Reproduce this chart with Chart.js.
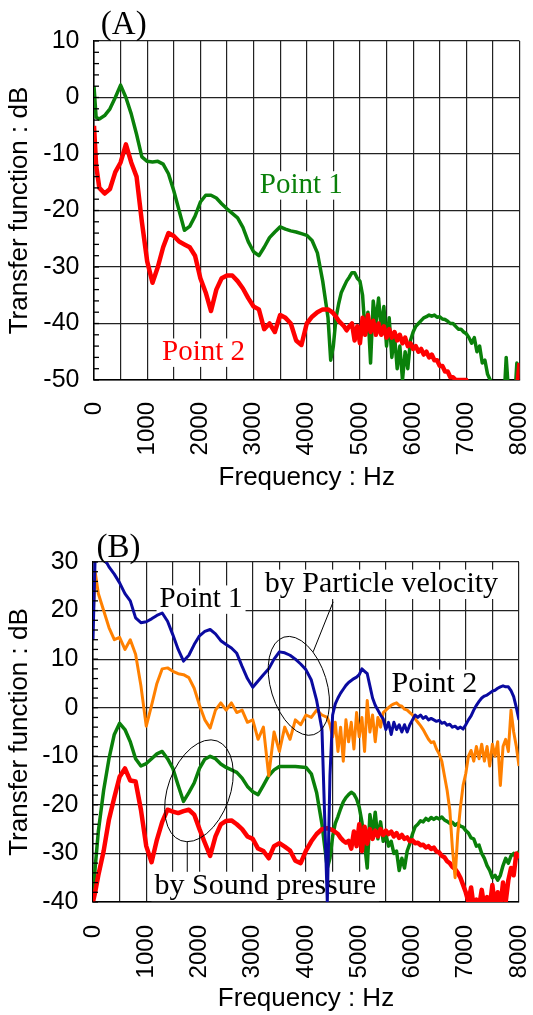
<!DOCTYPE html>
<html>
<head>
<meta charset="utf-8">
<script src="https://cdn.jsdelivr.net/npm/chart.js@4.4.0/dist/chart.umd.min.js"></script>
<style>
  body { margin: 0; background: #fff; }
  canvas { position: absolute; left: 0; }
  #graficoA { top: 0; }
  #graficoB { top: 505px; }
</style>
</head>
<body>
<canvas id="graficoA" width="533" height="505"></canvas>
<canvas id="graficoB" width="533" height="510"></canvas>
<script>
// eixo de frequencia (Hz): 100 Hz ate 4300, depois 50 Hz (parte ruidosa)
const freqHz = [0, 40, 100, 200, 300, 400, 500, 600, 700, 800,
  900, 1000, 1100, 1200, 1300, 1400, 1500, 1600, 1700, 1800,
  1900, 2000, 2100, 2200, 2300, 2400, 2500, 2600, 2700, 2800,
  2900, 3000, 3100, 3200, 3300, 3400, 3500, 3600, 3700, 3800,
  3900, 4000, 4100, 4200, 4300,
  4400, 4450, 4500, 4550, 4600, 4650, 4700, 4750, 4800, 4850,
  4900, 4950, 5000, 5050, 5100, 5150, 5200, 5250, 5300, 5350,
  5400, 5450, 5500, 5550, 5600, 5650, 5700, 5750, 5800, 5850,
  5900, 5950, 6000, 6050, 6100, 6150, 6200, 6250, 6300, 6350,
  6400, 6450, 6500, 6550, 6600, 6650, 6700, 6750, 6800, 6850,
  6900, 6950, 7000, 7050, 7100, 7150, 7200, 7250, 7300, 7350,
  7400, 7450, 7500, 7550, 7600, 7650, 7700, 7750, 7800, 7850,
  7900, 7950, 8000];

// (A) Point 1 e Point 2 (dB)
const pontoA1 = [2, -3.5, -3.8, -3.2, -2, 0, 2.2, 0, -2.9, -6.5,
  -10.5, -11.3, -11.4, -11.3, -11.8, -13.5, -16.5, -20, -23.5, -22.8,
  -21, -18.5, -17.3, -17.3, -17.8, -18.8, -19.7, -20.5, -21.3, -23,
  -25.5, -27.3, -28, -26.5, -24.8, -23.8, -22.9, -23.3, -23.6, -23.8,
  -24.1, -24.4, -25.3, -27.5, -32.5,
  -39, -46.5, -44, -39, -36.5, -34.5, -33.5, -32.5, -31.8, -31,
  -31, -32, -32.5, -35, -42, -38, -47, -36, -40, -35.5,
  -41, -37, -44, -39, -46, -42, -48, -44, -50, -45,
  -48, -43, -41.5, -40.5, -40, -39.5, -39, -38.8, -38.5, -38.7,
  -38.5, -38.9, -38.8, -39.2, -39.3, -39.6, -40, -40, -40.5, -41,
  -41, -41.5, -41.8, -42.5, -43.5, -42.5, -45, -44, -47, -46.5,
  -49, -50, -53, -55, -55, -55, -55, -46, -53, -55,
  -55, -47, -49];
const pontoA2 = [-5, -12, -16, -17, -16.2, -13.2, -11.5, -8.3, -11.5, -14,
  -22, -29, -32.8, -30, -26.5, -24, -24.5, -25.5, -26, -26.5,
  -28, -32, -34.5, -37.8, -34, -32, -31.5, -31.5, -32.5, -33.8,
  -35.5, -37, -37.5, -41, -40, -41.5, -38.5, -39, -40, -43,
  -43.8, -40, -38.8, -38, -37.5,
  -37.5, -37.8, -38.2, -38.8, -39.5, -40, -40.5, -41.2, -40.5, -40,
  -43, -40.5, -43.5, -39, -42, -38.5, -41.5, -39.5, -42, -40,
  -42, -40.5, -42.5, -41, -42.5, -41.5, -43, -42, -43.5, -42.5,
  -44, -43.5, -44.5, -44, -45, -44.5, -45.5, -45, -46, -45.5,
  -46.5, -46.5, -47.5, -47.5, -48.5, -48.5, -49.5, -49.5, -50, -50,
  -50, -50, -50, -53, -55, -55, -55, -55, -55, -55,
  -55, -55, -55, -55, -55, -55, -55, -55, -55, -55,
  -55, -52, -47];

// (B) velocidade de particula
const velocP1 = [14, 31, 32, 31, 29, 27.5, 25.7, 23.5, 22, 18.5,
  17.5, 17.7, 18.3, 19, 19.5, 17.8, 15, 12, 9.6, 10.8,
  13, 14.8, 15.7, 16.1, 15.2, 13.8, 13, 12.3, 11.2, 8.5,
  6, 4.2, 5.5, 6.8, 8, 10, 11.5, 11.3, 10.8, 10,
  9, 7.8, 5.7, 1.5, -4.5,
  -40, -14, -1.5, 0.8, 2, 3, 3.8, 4.6, 5.2, 5.6,
  6, 6.3, 6.8, 8, 7.5, 7, 4.5, 2, 0.5, -0.5,
  -1.5, -2.3, -4.5, -3, -5.5, -3, -4.5, -3.5, -5, -3.5,
  -5, -3.5, -2.5, -1.5, -2, -1.5, -2.2, -1.8, -2.5, -2.2,
  -2.5, -2.8, -2.6, -3.2, -3, -3.6, -3.4, -4, -3.8, -4.3,
  -4, -4.4, -3.5, -2.5, -1.7, -0.5, 0.5, 1.3, 2, 2.4,
  2.6, 3, 3.4, 3.6, 4, 4.3, 4.5, 4.3, 4.3, 3.5,
  2.3, 0, -2.5];
const velocP2 = [18, 28, 23.5, 20, 16.5, 14, 14.5, 12, 14, 11,
  4.5, -3.8, 0.5, 5, 8, 8.2, 7.5, 7, 6.8, 6.2,
  4, 0.5, -2.5, -4.2, -0.5, 1, -0.5, 1, -1, -0.5,
  -3, -2.5, -6.5, -4, -14, -5, -9, -4, -6.5, -2.5,
  -3.5, -1.5, -2, -0.5, -1.5,
  -2, -3.5, -6, -3, -9, -4, -11, -2.5, -7, -3,
  -8.5, -1, -6, -2, -9, 1.5, -5, -1.5, -7, -2,
  -4, -1, -0.5, 0, 0.5, 0.8, 1, 0.5, 0.3, -0.3,
  -0.5, -1, -1.5, -2.3, -3, -3.7, -4.5, -5.5, -6.5, -7.2,
  -7, -8.5, -9.5, -11, -14, -17, -21, -29, -35, -26,
  -20.5, -16, -13.6, -10, -8.8, -11, -8, -10.5, -7.5, -11,
  -8, -12, -7.5, -10, -7, -16, -8, -6.5, -9, -0.5,
  -5, -8, -12];

// (B) pressao sonora
const pressaoP1 = [-40, -33, -25.5, -17, -10.5, -5.5, -3.2, -4.5, -7, -10.5,
  -12, -11.5, -10.5, -9.5, -9, -10.5, -12.5, -16, -19.3, -17.5,
  -15.5, -12.5, -10.6, -10, -10.5, -11.6, -12.3, -12.8, -13.3, -14.5,
  -16.2, -17.3, -17.9, -16, -14, -12.8, -12.1, -12.1, -12.1, -12.1,
  -12.2, -12.3, -13.6, -17.5, -24,
  -33, -31, -26.5, -23.8, -22.4, -20.8, -19.4, -18.5, -17.9, -17.4,
  -17.8, -18.8, -20.5, -23.5, -28, -33, -22, -26, -21.5, -27,
  -23.5, -27.5, -26, -28.5, -27.5, -30, -29.5, -33.5, -31, -33,
  -29.5, -28, -26, -24.5, -24, -23.3, -23.5, -22.8, -23.2, -22.6,
  -23, -22.6, -22.9, -22.5, -23.1, -23.4, -23.8, -23.6, -24.2, -23.8,
  -24.4, -24.6, -25.3, -25.8, -26.8, -27, -28.5, -28.3, -30, -31,
  -32.5, -33.5, -35, -34.5, -35.5, -34.5, -32.5, -31, -32, -30.5,
  -30, -31, -29.5];
const pressaoP2 = [-40, -38, -34.5, -29.5, -23, -18.5, -14.2, -12.5, -15, -15.2,
  -21, -28.5, -31.8, -27.2, -23.5, -21, -21.4, -21.7, -21.3, -21,
  -22, -25, -27.8, -30.5, -26.5, -24, -23.3, -23.2, -24, -25,
  -26.5, -27, -29, -29.5, -31, -28.5, -27.9, -28.6, -29.4, -31.5,
  -32, -29.4, -27.5, -26, -25,
  -24.8, -25, -25.2, -25.6, -26, -26.8, -27.4, -27.8, -27.4, -29,
  -25.5, -28.5, -24, -29.5, -24.5, -28, -25, -27, -25.3, -26.5,
  -25, -26.2, -25.3, -26, -25.5, -26.5, -25.8, -26.8, -26.2, -27,
  -26.7, -27.5, -27.3, -27.9, -27.8, -28.3, -28.2, -28.8, -28.5, -29.1,
  -28.8, -29.6, -29.8, -30.5, -30.8, -31.6, -32, -32.8, -33.2, -34,
  -35, -36.5, -38, -40, -37, -41, -39.5, -41, -37.5, -41,
  -39, -41, -36.5, -41, -38, -41, -36, -40, -35.5, -33,
  -34.5, -30, -31];

Chart.defaults.font.family = "'Liberation Sans', Arial, sans-serif";
Chart.defaults.color = '#000';

const serif = "'Liberation Serif', 'Times New Roman', serif";

// plugin para textos, elipses e marcas menores do eixo y
function criarPluginAnotacoes(anot) {
  return {
    id: 'anotacoes',
    beforeDatasetsDraw(chart) {
      const ctx = chart.ctx, sx = chart.scales.x, sy = chart.scales.y;
      ctx.save();
      anot.textos.forEach(t => {
        ctx.font = `${t.tam}px ${serif}`;
        const px = sx.getPixelForValue(t.f), py = sy.getPixelForValue(t.db);
        const w = ctx.measureText(t.texto).width;
        if (t.fundo) {
          ctx.fillStyle = '#fff';
          ctx.fillRect(px - w / 2 - 3, py - t.tam * 0.75, w + 6, t.tam * 0.98);
        }
        ctx.fillStyle = t.cor;
        ctx.textAlign = 'center';
        ctx.textBaseline = 'alphabetic';
        ctx.fillText(t.texto, px, py);
      });
      ctx.restore();
    },
    afterDatasetsDraw(chart) {
      const ctx = chart.ctx, sx = chart.scales.x, sy = chart.scales.y;
      const area = chart.chartArea;
      ctx.save();
      ctx.strokeStyle = '#000';
      ctx.lineWidth = 1.3;
      // marcas menores para dentro
      sy.ticks.forEach(tk => {
        const py = sy.getPixelForValue(tk.value);
        ctx.beginPath();
        ctx.moveTo(area.left, py);
        ctx.lineTo(area.left + 5, py);
        ctx.stroke();
      });
      ctx.lineWidth = 1;
      (anot.elipses || []).forEach(e => {
        ctx.beginPath();
        ctx.ellipse(sx.getPixelForValue(e.f), sy.getPixelForValue(e.db), e.rx, e.ry, e.rot * Math.PI / 180, 0, 2 * Math.PI);
        ctx.stroke();
      });
      (anot.linhas || []).forEach(l => {
        ctx.beginPath();
        ctx.moveTo(sx.getPixelForValue(l.f1), sy.getPixelForValue(l.db1));
        ctx.lineTo(sx.getPixelForValue(l.f2), sy.getPixelForValue(l.db2));
        ctx.stroke();
      });
      ctx.restore();
    }
  };
}

function fazerGrafico(idCanvas, series, yMin, yMax, pad, alturaX, padTicksX, padTitulo, larguraY, anot) {
  const ctx = document.getElementById(idCanvas);
  const datasets = series.map(s => ({
    label: s.nome,
    data: freqHz.map((f, i) => ({ x: f, y: s.valores[i] })),
    borderColor: s.cor,
    borderWidth: s.largura,
    pointRadius: 0,
    tension: 0,
    borderJoinStyle: 'round',
    fill: false
  }));
  return new Chart(ctx, {
    type: 'line',
    data: { datasets: datasets },
    options: {
      responsive: false,
      animation: false,
      devicePixelRatio: 1,
      layout: { padding: pad },
      plugins: { legend: { display: false }, tooltip: { enabled: false } },
      scales: {
        x: {
          type: 'linear', min: 0, max: 8000,
          afterFit: s => { s.height = alturaX; s.paddingLeft = 0; s.paddingRight = 0; },
          ticks: {
            stepSize: 500, autoSkip: false, minRotation: 90, maxRotation: 90,
            padding: padTicksX, font: { size: 24 },
            callback: v => (v % 1000 === 0 ? v : '')
          },
          grid: { color: '#222', lineWidth: 1.2, drawTicks: false },
          border: { color: '#000', width: 1.5 },
          title: { display: true, text: 'Frequency : Hz', font: { size: 26 }, padding: { top: 0, bottom: padTitulo } }
        },
        y: {
          min: yMin, max: yMax,
          afterFit: s => { s.width = larguraY; s.paddingTop = 0; s.paddingBottom = 0; },
          ticks: {
            stepSize: 2, autoSkip: false, padding: 14.5, font: { size: 25 },
            callback: v => (v % 10 === 0 ? v : '')
          },
          grid: {
            drawTicks: false, lineWidth: 1.2,
            color: c => (c.tick && c.tick.value % 10 === 0 ? '#222' : 'rgba(0,0,0,0)')
          },
          border: { color: '#000', width: 1.5 },
          title: { display: true, text: 'Transfer function : dB', font: { size: 26 }, padding: { top: 4.4, bottom: 0 } }
        }
      }
    },
    plugins: [criarPluginAnotacoes(anot)]
  });
}

// grafico (A)
fazerGrafico('graficoA', [
  { nome: 'Point 2', valores: pontoA2, cor: '#ff0000', largura: 4.5 },
  { nome: 'Point 1', valores: pontoA1, cor: '#0a800a', largura: 3.5 }
], -50, 10, { top: 41, right: 13.5, left: 0, bottom: 0 }, 125, 22, 11.4, 94, {
  textos: [
    { texto: '(A)', f: 559, db: 11.2, tam: 33, cor: '#000', fundo: false },
    { texto: 'Point 1', f: 3898, db: -16.9, tam: 29, cor: '#0a800a', fundo: true },
    { texto: 'Point 2', f: 2061, db: -46.5, tam: 29, cor: '#ff0000', fundo: true }
  ]
});

// grafico (B)
fazerGrafico('graficoB', [
  { nome: 'Point 1 (velocity)', valores: velocP1, cor: '#0a0aa0', largura: 3 },
  { nome: 'Point 2 (velocity)', valores: velocP2, cor: '#ff8000', largura: 3 },
  { nome: 'Point 2 (pressure)', valores: pressaoP2, cor: '#ff0000', largura: 4.5 },
  { nome: 'Point 1 (pressure)', valores: pressaoP1, cor: '#0a800a', largura: 3.5 }
], -40, 30, { top: 57, right: 14, left: 0, bottom: 0 }, 113, 23, 0.4, 93, {
  textos: [
    { texto: '(B)', f: 478, db: 31.0, tam: 33, cor: '#000', fundo: false },
    { texto: 'Point 1', f: 2029, db: 20.7, tam: 29, cor: '#000', fundo: true },
    { texto: 'by Particle velocity', f: 5417, db: 23.8, tam: 30, cor: '#000', fundo: true },
    { texto: 'Point 2', f: 6412, db: 3.2, tam: 30, cor: '#000', fundo: true },
    { texto: 'by Sound pressure', f: 3235, db: -38.4, tam: 30, cor: '#000', fundo: true }
  ],
  elipses: [
    { f: 3866, db: 4.5, rx: 28, ry: 51, rot: -17 },
    { f: 1990, db: -17.1, rx: 31, ry: 53, rot: 20 }
  ],
  linhas: [
    { f1: 4134, db1: 11.5, f2: 4510, db2: 21.8 },
    { f1: 1770, db1: -27.6, f2: 1770, db2: -33.8 }
  ]
});
</script>
</body>
</html>
